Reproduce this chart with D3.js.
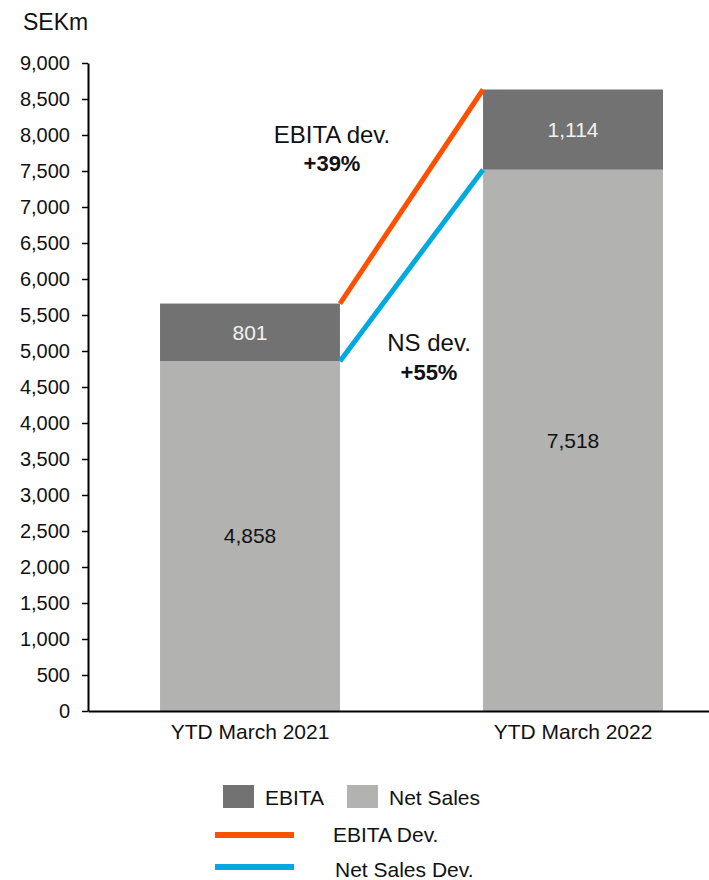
<!DOCTYPE html>
<html>
<head>
<meta charset="utf-8">
<script src="https://cdn.jsdelivr.net/npm/d3@7"></script>
<style>
  body { margin: 0; background: #fff; }
  svg { display: block; font-family: "Liberation Sans", Arial, sans-serif; }
</style>
</head>
<body>
<div id="chart"></div>
<script>
// data
const categories = ["YTD March 2021", "YTD March 2022"];
const netSales = [4858, 7518];
const ebita = [801, 1114];
const yTicks = [0, 500, 1000, 1500, 2000, 2500, 3000, 3500, 4000, 4500, 5000, 5500, 6000, 6500, 7000, 7500, 8000, 8500, 9000];
const devLabels = ["EBITA dev.", "NS dev."];
const devPct = ["+39%", "+55%"];
const legendLabels = ["EBITA", "Net Sales", "EBITA Dev.", "Net Sales Dev."];

const colors = {
    ebita: "#717271",
    sales: "#b2b3b1",
    ebitaDev: "#ff5000",
    salesDev: "#00a9e0"
};

const width = 709, height = 880;

let svg = d3.select("#chart")
    .append("svg")
    .attr("width", width)
    .attr("height", height);

const x = d3.scaleBand()
    .domain(categories)
    .range([88, 735])
    .paddingInner(0.443)
    .paddingOuter(0.223);

const y = d3.scaleLinear()
    .domain([0, 9000])
    .range([711, 63]);

// stacked rows
const rows = categories.map((c, i) => ({
    cat: c,
    sales: netSales[i],
    ebita: ebita[i],
    total: netSales[i] + ebita[i]
}));

// bars
let bars = svg.append("g");
bars.selectAll(".sales")
    .data(rows)
    .join("rect")
    .attr("class", "sales")
    .attr("x", d => x(d.cat))
    .attr("y", d => y(d.sales))
    .attr("width", x.bandwidth())
    .attr("height", d => y(0) - y(d.sales))
    .style("fill", colors.sales);

bars.selectAll(".ebita")
    .data(rows)
    .join("rect")
    .attr("class", "ebita")
    .attr("x", d => x(d.cat))
    .attr("y", d => y(d.total))
    .attr("width", x.bandwidth())
    .attr("height", d => y(d.sales) - y(d.total))
    .style("fill", colors.ebita);

// value labels
bars.selectAll(".salesLbl")
    .data(rows)
    .join("text")
    .attr("x", d => x(d.cat) + x.bandwidth() / 2)
    .attr("y", d => y(d.sales / 2))
    .attr("dy", "0.35em")
    .attr("text-anchor", "middle")
    .attr("font-size", 21)
    .attr("fill", "#111")
    .text(d => d3.format(",")(d.sales));

bars.selectAll(".ebitaLbl")
    .data(rows)
    .join("text")
    .attr("x", d => x(d.cat) + x.bandwidth() / 2)
    .attr("y", d => y(d.sales + d.ebita / 2))
    .attr("dy", "0.35em")
    .attr("text-anchor", "middle")
    .attr("font-size", 21)
    .attr("fill", "#f2f2f2")
    .text(d => d3.format(",")(d.ebita));

// deviation lines
const a = rows[0], b = rows[1];
svg.append("line")
    .attr("x1", x(a.cat) + x.bandwidth())
    .attr("y1", y(a.total))
    .attr("x2", x(b.cat))
    .attr("y2", y(b.total))
    .attr("stroke", colors.ebitaDev)
    .attr("stroke-width", 5);
svg.append("line")
    .attr("x1", x(a.cat) + x.bandwidth())
    .attr("y1", y(a.sales))
    .attr("x2", x(b.cat))
    .attr("y2", y(b.sales))
    .attr("stroke", colors.salesDev)
    .attr("stroke-width", 5);

// annotations
const notes = [
    { cx: 332, y1: 143, y2: 171 },
    { cx: 429, y1: 351, y2: 380 }
];
notes.forEach((n, i) => {
    svg.append("text")
        .attr("x", n.cx).attr("y", n.y1)
        .attr("text-anchor", "middle")
        .attr("font-size", 24)
        .attr("fill", "#111")
        .text(devLabels[i]);
    svg.append("text")
        .attr("x", n.cx).attr("y", n.y2)
        .attr("text-anchor", "middle")
        .attr("font-size", 22)
        .attr("font-weight", "bold")
        .attr("fill", "#111")
        .text(devPct[i]);
});

// axes
const yAxis = d3.axisLeft(y)
    .tickValues(yTicks)
    .tickFormat(d3.format(","))
    .tickSize(6)
    .tickSizeOuter(0)
    .tickPadding(12);

let yDisplay = svg.append("g")
    .attr("transform", "translate(88,0)")
    .call(yAxis);
yDisplay.select(".domain").attr("stroke", "#000").attr("stroke-width", 2);
yDisplay.selectAll(".tick line").attr("stroke", "#000").attr("stroke-width", 1.5);
yDisplay.selectAll(".tick text")
    .attr("font-family", "Liberation Sans, Arial, sans-serif")
    .attr("font-size", 20)
    .attr("fill", "#111");

const xAxis = d3.axisBottom(x).tickSize(0).tickPadding(13);
let xDisplay = svg.append("g")
    .attr("transform", `translate(0,${y(0)})`)
    .call(xAxis);
xDisplay.select(".domain").attr("stroke", "#000").attr("stroke-width", 2);
xDisplay.selectAll(".tick text")
    .attr("font-family", "Liberation Sans, Arial, sans-serif")
    .attr("font-size", 21)
    .attr("fill", "#111");

svg.append("text")
    .attr("x", 23).attr("y", 30)
    .attr("font-size", 23)
    .attr("fill", "#111")
    .text("SEKm");

// legend
let legend = svg.append("g");
legend.append("rect").attr("x", 223).attr("y", 785).attr("width", 31).attr("height", 23).attr("fill", colors.ebita);
legend.append("text").attr("x", 265).attr("y", 805).attr("font-size", 21).attr("fill", "#111").text(legendLabels[0]);
legend.append("rect").attr("x", 347).attr("y", 785).attr("width", 31).attr("height", 23).attr("fill", colors.sales);
legend.append("text").attr("x", 389).attr("y", 805).attr("font-size", 21).attr("fill", "#111").text(legendLabels[1]);
legend.append("line").attr("x1", 215).attr("x2", 294).attr("y1", 835).attr("y2", 835)
    .attr("stroke", colors.ebitaDev).attr("stroke-width", 6);
legend.append("text").attr("x", 333).attr("y", 842).attr("font-size", 21).attr("fill", "#111").text(legendLabels[2]);
legend.append("line").attr("x1", 215).attr("x2", 294).attr("y1", 867).attr("y2", 867)
    .attr("stroke", colors.salesDev).attr("stroke-width", 6);
legend.append("text").attr("x", 335).attr("y", 877).attr("font-size", 21).attr("fill", "#111").text(legendLabels[3]);
</script>
</body>
</html>
